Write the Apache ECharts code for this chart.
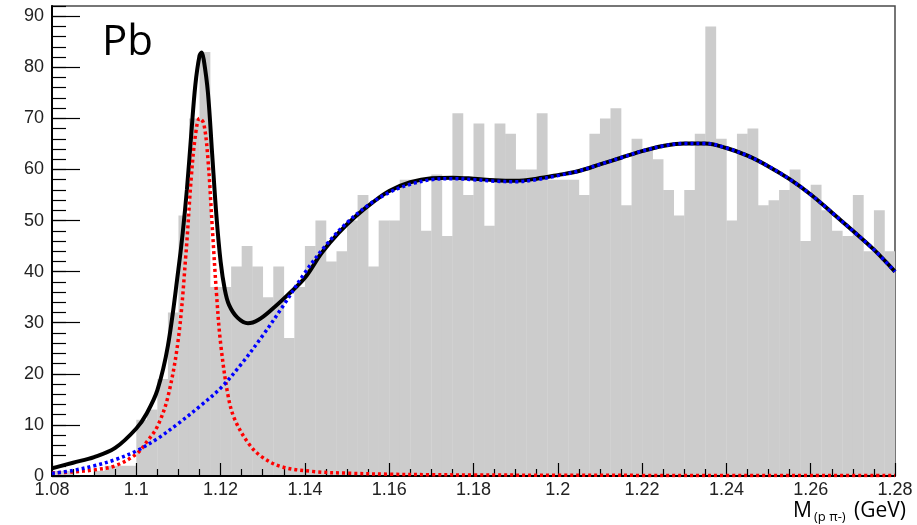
<!DOCTYPE html>
<html>
<head>
<meta charset="utf-8">
<title>Pb – M(p π-)</title>
<script src="https://cdn.jsdelivr.net/npm/echarts@6/dist/echarts.min.js"></script>
<style>
  html, body { margin: 0; padding: 0; background: #ffffff; }
  #chart { width: 917px; height: 525px; }
</style>
</head>
<body>
<div id="chart"></div>
<script>
// Histogram binning (GeV)
const xMin = 1.08;
const xMax = 1.28;
const binWidth = 0.0025;

// Entries per bin, 80 bins from 1.08 to 1.28
const counts = [
  1, 1, 0, 0, 1, 2, 2, 2,
  11, 13, 19, 32, 51, 70, 83, 37,
  37, 41, 45, 41, 35, 41, 27, 37,
  45, 50, 42, 44, 50, 55, 41, 50,
  50, 58, 58, 48, 59, 47, 71, 55,
  69, 49, 69, 67, 60, 60, 71, 58,
  58, 58, 55, 67, 70, 72, 53, 66,
  64, 62, 56, 51, 56, 67, 88, 66,
  50, 67, 68, 53, 54, 56, 60, 46,
  57, 52, 48, 47, 55, 44, 52, 44
];

// Total fit (black)
const totalX = [1.080, 1.085, 1.090, 1.095, 1.100, 1.1025, 1.105, 1.1075, 1.110, 1.111, 1.112, 1.113,
  1.114, 1.115, 1.1155, 1.116, 1.117, 1.118, 1.119, 1.120, 1.121, 1.122, 1.124, 1.1265, 1.129,
  1.132, 1.136, 1.140, 1.144, 1.148, 1.152, 1.156, 1.160, 1.165, 1.170, 1.175, 1.180, 1.185,
  1.190, 1.195, 1.200, 1.205, 1.210, 1.215, 1.220, 1.225, 1.230, 1.235, 1.240, 1.245, 1.250,
  1.255, 1.260, 1.265, 1.270, 1.275, 1.280];
const totalY = [1.5, 2.6, 3.7, 5.5, 9.3, 12.3, 16.8, 25.5, 40.5, 47.5, 56, 66.5,
  76.5, 82.3, 82.9, 81.5, 75, 63, 51, 42, 36.5, 33.5, 31.0, 29.9, 30.6,
  32.5, 35.5, 38.8, 43.7, 47.6, 50.8, 53.5, 55.8, 57.5, 58.3, 58.4, 58.2, 57.9,
  57.8, 58.2, 58.9, 59.7, 61.0, 62.3, 63.6, 64.6, 65.1, 65.1, 64.2, 62.7, 60.6,
  58.1, 55.1, 51.6, 48.0, 44.3, 40.0];

// Signal component (red)
const signalX = [1.080, 1.085, 1.090, 1.095, 1.100, 1.1025, 1.105, 1.1075, 1.110, 1.1118, 1.113,
  1.114, 1.115, 1.116, 1.117, 1.118, 1.119, 1.120, 1.1218, 1.1234, 1.1266, 1.1297, 1.1345,
  1.1424, 1.150, 1.160, 1.170, 1.180, 1.200, 1.220, 1.240, 1.260, 1.280];
const signalY = [0.6, 0.8, 1.2, 2.0, 4.3, 6.7, 9.7, 15.5, 27, 43.7, 58,
  66.5, 70, 69, 62, 49, 36, 26, 15.6, 11, 6.4, 3.8, 1.8,
  0.85, 0.55, 0.35, 0.25, 0.2, 0.15, 0.12, 0.1, 0.1, 0.1];

// Background component (blue)
const bgX = [1.080, 1.085, 1.090, 1.095, 1.100, 1.105, 1.110, 1.115, 1.120, 1.125, 1.130, 1.135,
  1.140, 1.145, 1.150, 1.155, 1.160, 1.165, 1.170, 1.175, 1.180, 1.185, 1.190, 1.195, 1.200,
  1.205, 1.210, 1.215, 1.220, 1.225, 1.230, 1.235, 1.240, 1.245, 1.250, 1.255, 1.260, 1.265,
  1.270, 1.275, 1.280];
const bgY = [0.5, 1.1, 2.0, 3.2, 4.9, 7.3, 10.3, 13.6, 17.2, 22.0, 27.5, 33.5,
  39.8, 45.2, 49.6, 53.0, 55.5, 57.1, 58.0, 58.2, 58.0, 57.7, 57.6, 58.0, 58.8,
  59.7, 61.0, 62.3, 63.6, 64.6, 65.1, 65.1, 64.2, 62.7, 60.6, 58.1, 55.1, 51.6,
  48.0, 44.3, 40.0];

const xTickLabels = ['1.08', '1.1', '1.12', '1.14', '1.16', '1.18', '1.2', '1.22', '1.24', '1.26', '1.28'];
const yTickLabels = ['0', '10', '20', '30', '40', '50', '60', '70', '80', '90'];

const yMax = 92;
const labelFont = '"Liberation Sans", Arial, Helvetica, sans-serif';
const textFont = '"Open Sans", "Noto Sans", sans-serif';

const zip = (xs, ys) => xs.map((x, i) => [x, ys[i]]);
const binData = counts.map((c, i) => [xMin + i * binWidth, xMin + (i + 1) * binWidth, c]);

const chart = echarts.init(document.getElementById('chart'), null, { renderer: 'canvas' });

chart.setOption({
  animation: false,
  backgroundColor: '#ffffff',
  grid: {
    left: 52, right: 22, top: 6, bottom: 49,
    show: true, borderColor: '#4a4a4a', borderWidth: 1.5, backgroundColor: 'transparent'
  },
  xAxis: {
    type: 'value', min: xMin, max: xMax, interval: 0.02, z: 3,
    axisLine: { show: true, onZero: false, lineStyle: { color: '#000', width: 2 } },
    axisTick: { show: true, inside: true, length: 13, lineStyle: { color: '#000', width: 1.2 } },
    minorTick: { show: true, splitNumber: 4, length: 7, lineStyle: { color: '#000', width: 1.2 } },
    splitLine: { show: false },
    axisLabel: {
      margin: 5, fontSize: 18, color: '#222', fontFamily: labelFont,
      formatter: v => {
        const s = String(+v.toFixed(3));
        return xTickLabels.indexOf(s) >= 0 ? s : '';
      }
    }
  },
  yAxis: [
    {
      type: 'value', min: 0, max: yMax, interval: 2, z: 3,
      axisLine: { show: true, lineStyle: { color: '#000', width: 2 } },
      axisTick: { show: true, inside: true, length: 14, lineStyle: { color: '#000', width: 1.2 } },
      splitLine: { show: false },
      axisLabel: {
        margin: 8, fontSize: 18, color: '#222', fontFamily: labelFont,
        formatter: v => {
          const s = String(Math.round(v));
          return (Math.abs(v % 10) < 1e-6 && yTickLabels.indexOf(s) >= 0) ? s : '';
        }
      }
    },
    {
      type: 'value', min: 0, max: yMax, interval: 10, position: 'left', offset: 0, z: 3,
      axisLine: { show: false },
      axisTick: {
        show: true, inside: true, length: 28,
        customValues: yTickLabels.map(Number),
        lineStyle: { color: '#000', width: 1.2 }
      },
      axisLabel: { show: false },
      splitLine: { show: false }
    }
  ],
  series: [
    {
      name: 'data',
      type: 'custom',
      z: 2,
      clip: true,
      encode: { x: [0, 1], y: 2 },
      data: binData,
      renderItem: (params, api) => {
        const top = api.coord([api.value(0), api.value(2)]);
        const base = api.coord([api.value(1), 0]);
        return {
          type: 'rect',
          shape: { x: top[0], y: top[1], width: base[0] - top[0] + 0.3, height: base[1] - top[1] },
          style: { fill: '#cccccc', stroke: null }
        };
      }
    },
    {
      name: 'total',
      type: 'line', z: 4, data: zip(totalX, totalY),
      smooth: 0.35, showSymbol: false, clip: true,
      lineStyle: { color: '#000000', width: 4 }
    },
    {
      name: 'signal',
      type: 'line', z: 5, data: zip(signalX, signalY),
      smooth: 0.35, showSymbol: false, clip: true,
      lineStyle: { color: '#ff0000', width: 3.5, type: [3, 3] }
    },
    {
      name: 'background',
      type: 'line', z: 6, data: zip(bgX, bgY),
      smooth: 0.35, showSymbol: false, clip: true,
      lineStyle: { color: '#0000ff', width: 3.5, type: [3, 3] }
    }
  ],
  graphic: [
    {
      type: 'text', left: 102, top: 22, z: 10,
      style: { text: 'Pb', fontSize: 42, fontFamily: textFont, fill: '#000' }
    },
    {
      type: 'text', x: 793, y: 511, z: 10,
      style: { text: 'M', fontSize: 21, fontFamily: textFont, fill: '#000', align: 'left', verticalAlign: 'middle' }
    },
    {
      type: 'text', x: 814, y: 517, z: 10,
      style: { text: '(p π-)', fontSize: 13, fontFamily: textFont, fill: '#000', align: 'left', verticalAlign: 'middle' }
    },
    {
      type: 'text', x: 906, y: 511, z: 10,
      style: { text: '(GeV)', fontSize: 21, fontFamily: textFont, fill: '#000', align: 'right', verticalAlign: 'middle' }
    }
  ]
});
</script>
</body>
</html>
